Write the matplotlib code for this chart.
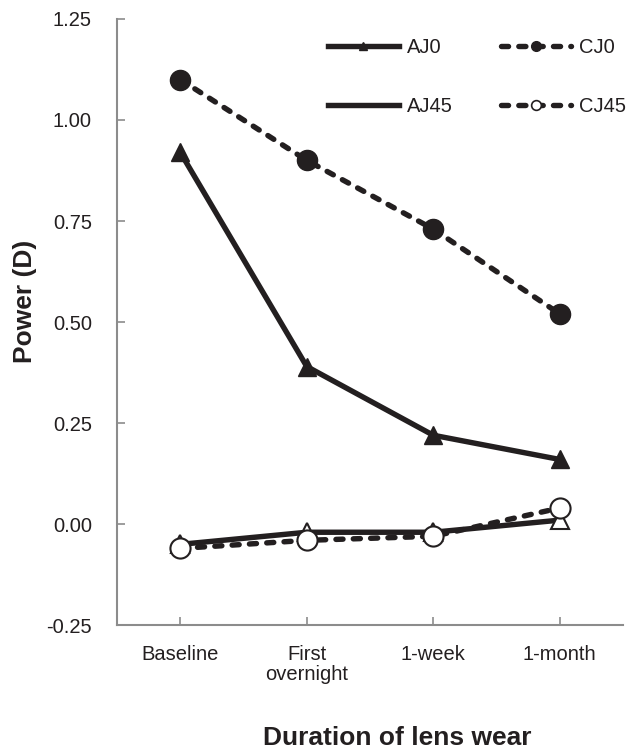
import numpy as np
import matplotlib
matplotlib.use('Agg')
import matplotlib.pyplot as plt

plt.rcParams['font.family'] = ['Liberation Sans', 'DejaVu Sans']

## data
stages = ['Baseline', 'First\novernight', '1-week', '1-month']
aj0 = [0.92, 0.39, 0.22, 0.16]
cj0 = [1.10, 0.90, 0.73, 0.52]
aj45 = [-0.05, -0.02, -0.02, 0.01]
cj45 = [-0.06, -0.04, -0.03, 0.04]
yticks = [-0.25, 0.00, 0.25, 0.50, 0.75, 1.00, 1.25]

ink = '#231f20'
grey = '#8c8c8c'
dash = (0, (1.3, 1.9))
lw = 3.9

fig = plt.figure(figsize=(6.41, 7.56), dpi=100)
ax = fig.add_axes([0.1825, 0.173, 0.7895, 0.802])
x = np.arange(len(stages))

ax.plot(x, aj0, color=ink, lw=lw, marker='^', ms=13, mfc=ink, mec=ink, zorder=3)
ax.plot(x, cj0, color=ink, lw=lw, ls=dash, dash_capstyle='round',
        marker='o', ms=14.5, mfc=ink, mec=ink, zorder=3)
ax.plot(x, aj45, color=ink, lw=lw, marker='^', ms=13, mfc='white', mec=ink,
        mew=1.5, zorder=4)
ax.plot(x, cj45, color=ink, lw=lw, ls=dash, dash_capstyle='round',
        marker='o', ms=14.5, mfc='white', mec=ink, mew=1.5, zorder=5)

ax.set_xlim(-0.5, 3.5)
ax.set_ylim(-0.25, 1.25)
ax.set_yticks(yticks)
ax.set_yticklabels(['%.2f' % v for v in yticks])
ax.set_xticks(x)
ax.set_xticklabels(stages, linespacing=1.1)
ax.tick_params(direction='in', length=6, width=1.2, color=grey,
               labelsize=14.5, labelcolor=ink)
ax.tick_params(axis='y', pad=18)
ax.tick_params(axis='x', pad=14)
for s in ['top', 'right']:
    ax.spines[s].set_visible(False)
for s in ['left', 'bottom']:
    ax.spines[s].set_color(grey)
    ax.spines[s].set_linewidth(1.5)

# legend with small markers on long handles
h1, = ax.plot([], [], color=ink, lw=lw, marker='^', ms=6, mfc=ink, mec=ink)
h2, = ax.plot([], [], color=ink, lw=lw, marker='_', ms=6, mec=ink)
h3, = ax.plot([], [], color=ink, lw=lw, ls=dash, dash_capstyle='round',
              marker='o', ms=7, mfc=ink, mec=ink)
h4, = ax.plot([], [], color=ink, lw=lw, ls=dash, dash_capstyle='round',
              marker='o', ms=7, mfc='white', mec=ink, mew=1.2)
leg = fig.legend([h1, h2, h3, h4], ['AJ0', 'AJ45', 'CJ0', 'CJ45'], ncol=2,
                 loc='upper left', bbox_to_anchor=(0.512, 0.950), frameon=False,
                 fontsize=14.5, handlelength=3.5, handletextpad=0.4,
                 labelspacing=2.0, columnspacing=2.4, borderpad=0,
                 borderaxespad=0)
for t in leg.get_texts():
    t.set_color(ink)

fig.text(25 / 641, 1 - 301 / 756, 'Power (D)', rotation=90, ha='center',
         va='center', fontsize=19, fontweight='bold', color=ink)
fig.text(397 / 641, 1 - 738 / 756, 'Duration of lens wear', ha='center',
         va='center', fontsize=19, fontweight='bold', color=ink)

fig.savefig('out.png', dpi=100)
